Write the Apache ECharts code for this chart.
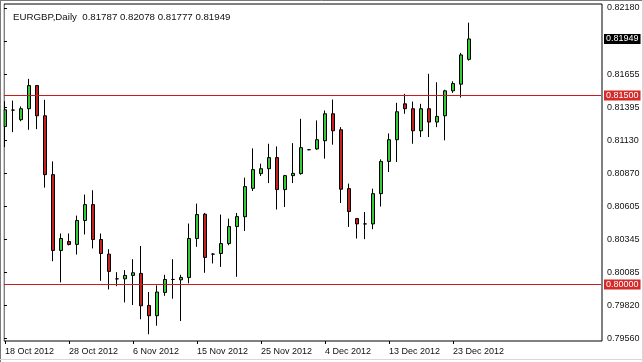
<!DOCTYPE html>
<html>
<head>
<meta charset="utf-8">
<script src="https://cdn.jsdelivr.net/npm/echarts@6/dist/echarts.min.js"></script>
<style>
html,body{margin:0;padding:0;background:#fff;}
#chart{width:643px;height:362px;}
</style>
</head>
<body>
<div id="chart"></div>
<script>
const symbolName = 'EURGBP,Daily';
const dates = ['18 Oct 2012','19 Oct 2012','21 Oct 2012','22 Oct 2012','23 Oct 2012','24 Oct 2012','25 Oct 2012','26 Oct 2012',
  '28 Oct 2012','29 Oct 2012','30 Oct 2012','31 Oct 2012','1 Nov 2012','2 Nov 2012','4 Nov 2012','5 Nov 2012',
  '6 Nov 2012','7 Nov 2012','8 Nov 2012','9 Nov 2012','11 Nov 2012','12 Nov 2012','13 Nov 2012','14 Nov 2012',
  '15 Nov 2012','16 Nov 2012','18 Nov 2012','19 Nov 2012','20 Nov 2012','21 Nov 2012','22 Nov 2012','23 Nov 2012',
  '25 Nov 2012','26 Nov 2012','27 Nov 2012','28 Nov 2012','29 Nov 2012','30 Nov 2012','2 Dec 2012','3 Dec 2012',
  '4 Dec 2012','5 Dec 2012','6 Dec 2012','7 Dec 2012','9 Dec 2012','10 Dec 2012','11 Dec 2012','12 Dec 2012',
  '13 Dec 2012','14 Dec 2012','16 Dec 2012','17 Dec 2012','18 Dec 2012','19 Dec 2012','20 Dec 2012','21 Dec 2012',
  '23 Dec 2012','24 Dec 2012','26 Dec 2012'];
const opens  = [0.81254,0.81384,0.81308,0.81395,0.81579,0.81339,0.80872,0.80270,
  0.80341,0.80318,0.80508,0.80634,0.80357,0.80241,0.80045,0.80045,
  0.80072,0.80088,0.79834,0.79752,0.79937,0.80040,0.80037,0.80055,
  0.80365,0.80558,0.80241,0.80246,0.80325,0.80460,0.80538,0.80763,
  0.80880,0.80919,0.81007,0.80753,0.80864,0.80880,0.81070,0.81076,
  0.81141,0.81355,0.81228,0.80761,0.80523,0.80481,0.80481,0.80721,
  0.80977,0.81149,0.81434,0.81395,0.81220,0.81395,0.81289,0.81339,
  0.81537,0.81590,0.81787];
const highs  = [0.81455,0.81460,0.81413,0.81632,0.81582,0.81466,0.80977,0.80405,
  0.80405,0.80547,0.80714,0.80748,0.80405,0.80280,0.80098,0.80114,
  0.80201,0.80306,0.79940,0.79993,0.80077,0.80201,0.80077,0.80484,
  0.80642,0.80568,0.80249,0.80555,0.80523,0.80568,0.80848,0.81080,
  0.80959,0.81117,0.81096,0.80870,0.81122,0.81315,0.81075,0.81302,
  0.81381,0.81468,0.81249,0.80801,0.80528,0.80576,0.80761,0.80993,
  0.81199,0.81442,0.81513,0.81452,0.81434,0.81672,0.81605,0.81545,
  0.81613,0.81838,0.82078];
const lows   = [0.81091,0.81209,0.81296,0.81228,0.81233,0.80769,0.80185,0.80017,
  0.80310,0.80238,0.80397,0.80286,0.80029,0.79961,0.79987,0.79858,
  0.79837,0.79724,0.79605,0.79673,0.79910,0.79887,0.79710,0.80009,
  0.80299,0.80093,0.80167,0.80140,0.80312,0.80061,0.80425,0.80742,
  0.80861,0.80805,0.80595,0.80615,0.80805,0.80872,0.81065,0.81070,
  0.80999,0.81110,0.80647,0.80457,0.80365,0.80360,0.80439,0.80619,
  0.80893,0.80972,0.81355,0.81117,0.81170,0.81170,0.81249,0.81144,
  0.81521,0.81484,0.81777];
const closes = [0.81387,0.81384,0.81395,0.81579,0.81339,0.80872,0.80270,0.80365,
  0.80318,0.80508,0.80634,0.80357,0.80246,0.80104,0.80045,0.80072,
  0.80093,0.79831,0.79752,0.79940,0.80040,0.80040,0.80056,0.80365,
  0.80555,0.80215,0.80241,0.80325,0.80460,0.80539,0.80777,0.80912,
  0.80919,0.81007,0.80753,0.80864,0.80882,0.81086,0.81070,0.81149,
  0.81355,0.81220,0.80756,0.80579,0.80481,0.80481,0.80721,0.80977,
  0.81149,0.81371,0.81395,0.81220,0.81395,0.81289,0.81334,0.81537,
  0.81595,0.81822,0.81949];
const levels = [0.81500, 0.80000];
const priceTicks = ['0.79560','0.79820','0.80085','0.80345','0.80605','0.80870','0.81130','0.81395','0.81655','0.81920','0.82180'];
const emptySlots = 16;

const FONT = 'Liberation Sans';
const LEVEL_COLOR = '#c41e1e';
const last = closes.length - 1;
const categories = dates.concat(new Array(emptySlots).fill(''));
const candleData = opens.map((o, i) => [o, closes[i], lows[i], highs[i]]);
const titleText = symbolName + '  ' + [opens[last], highs[last], lows[last], closes[last]].map(v => v.toFixed(5)).join(' ');
const showIdx = (idx, val) => idx % 8 === 0 && val !== '';
const tagLabel = (bg) => ({
  show: true, position: 'end', distance: 3,
  formatter: p => Number(p.value).toFixed(5),
  color: '#fff', backgroundColor: bg, padding: [1, 2, 0, 2], lineHeight: 9,
  fontSize: 9, fontFamily: FONT
});

const chart = echarts.init(document.getElementById('chart'), null, {renderer: 'canvas'});
chart.setOption({
  animation: false,
  backgroundColor: '#fff',
  title: {
    text: titleText, left: 8, top: 7,
    textStyle: {fontSize: 9.7, fontWeight: 'normal', color: '#111', fontFamily: FONT}
  },
  grid: [
    {left: 1, top: 4, width: 600, height: 337, show: false},
    {left: 4, top: 4, width: 598, height: 337, show: true, borderColor: '#000', borderWidth: 1, backgroundColor: 'transparent', z: 3},
    {left: 4, top: 8, width: 598, height: 330.5, show: false}
  ],
  xAxis: [
    {
      type: 'category', gridIndex: 0, data: categories, boundaryGap: true,
      axisLine: {show: false},
      axisTick: {show: true, alignWithLabel: true, length: 3, interval: showIdx, lineStyle: {color: '#000'}},
      axisLabel: {interval: showIdx, align: 'left', margin: 6, fontSize: 9, color: '#111', fontFamily: FONT},
      splitLine: {show: false}
    },
    {type: 'value', gridIndex: 1, show: false},
    {type: 'value', gridIndex: 2, show: false}
  ],
  yAxis: [
    {type: 'value', gridIndex: 0, min: 0.795516, max: 0.822262, show: false, scale: true},
    {type: 'value', gridIndex: 1, show: false},
    {
      type: 'category', gridIndex: 2, data: priceTicks, position: 'right', boundaryGap: false,
      axisLine: {show: false},
      axisTick: {show: true, length: 3, interval: 0, lineStyle: {color: '#000'}},
      axisLabel: {interval: 0, margin: 5, fontSize: 9, color: '#111', fontFamily: FONT},
      splitLine: {show: false}
    }
  ],
  series: [
    {
      type: 'candlestick',
      xAxisIndex: 0, yAxisIndex: 0,
      data: candleData,
      barWidth: 4,
      itemStyle: {
        color: '#33cc33', color0: '#c81e1e',
        borderColor: '#000', borderColor0: '#000', borderColorDoji: '#000', borderWidth: 1
      },
      emphasis: {disabled: true}
    },
    {
      type: 'line', name: 'levels', xAxisIndex: 0, yAxisIndex: 0, data: [],
      color: LEVEL_COLOR,
      markLine: {
        silent: true, precision: 5, symbol: ['none', 'none'],
        lineStyle: {color: LEVEL_COLOR, width: 1, type: 'solid'},
        label: tagLabel('#d42a2a'),
        emphasis: {disabled: true},
        data: levels.map(v => ({yAxis: v}))
      }
    },
    {
      type: 'line', name: 'bid', xAxisIndex: 0, yAxisIndex: 0, data: [],
      markLine: {
        silent: true, precision: 5, symbol: ['none', 'none'],
        lineStyle: {color: 'rgba(0,0,0,0)', width: 1},
        label: tagLabel('#000'),
        emphasis: {disabled: true},
        data: [{yAxis: closes[last]}]
      }
    }
  ],
  graphic: [
    {type: 'rect', shape: {x: 0, y: 2, width: 3.6, height: 340}, style: {fill: '#fff'}, z: 100},
    {type: 'line', shape: {x1: 0, y1: 0.5, x2: 643, y2: 0.5}, style: {stroke: '#7a7a7a', lineWidth: 1}, z: 101},
    {type: 'line', shape: {x1: 0.5, y1: 0, x2: 0.5, y2: 362}, style: {stroke: '#7a7a7a', lineWidth: 1}, z: 101},
    {type: 'line', shape: {x1: 0, y1: 359.5, x2: 643, y2: 359.5}, style: {stroke: '#d8d8d8', lineWidth: 1}, z: 101},
    {type: 'line', shape: {x1: 642.5, y1: 0, x2: 642.5, y2: 362}, style: {stroke: '#d8d8d8', lineWidth: 1}, z: 101}
  ]
});
</script>
</body>
</html>
